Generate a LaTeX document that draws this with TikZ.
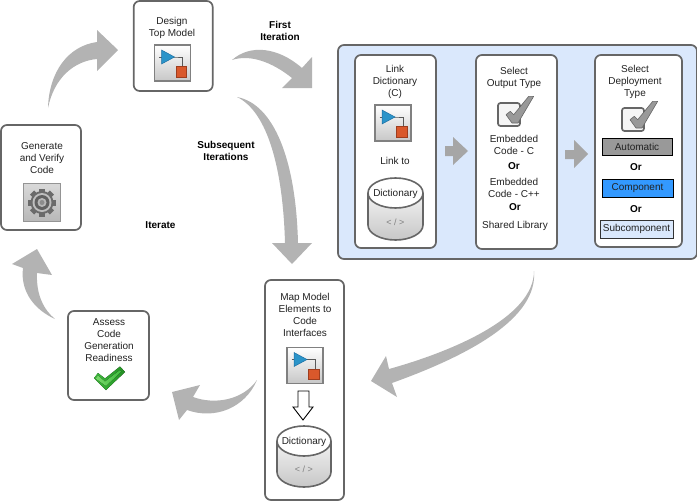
\documentclass[tikz,border=0pt]{standalone}
\usepackage{fontspec}
\setmainfont{Liberation Sans}
\definecolor{bordergray}{HTML}{666666}
\definecolor{arrowgray}{HTML}{B3B3B3}
\definecolor{smallarrow}{HTML}{A6A6A6}
\definecolor{panelblue}{HTML}{DAE8FC}
\definecolor{txt}{HTML}{222222}
\definecolor{iconblue}{HTML}{2B94C9}
\definecolor{iconblued}{HTML}{1C6FA3}
\definecolor{iconorange}{HTML}{D9582B}
\definecolor{iconoranged}{HTML}{9E3D1E}
\definecolor{compblue}{HTML}{3399FF}
\definecolor{checklight}{HTML}{7ADB6B}
\definecolor{checkmid}{HTML}{3DBB3D}
\definecolor{checkdark}{HTML}{238F23}
\tikzset{
  x=1pt,y=-1pt,
  card/.style={draw=bordergray,line width=1.7pt,rounded corners=6pt,fill=white,inner sep=0pt},
  lbl/.style={align=center,inner sep=0pt,text=txt,font=\fontsize{10}{12}\selectfont},
  blbl/.style={align=center,inner sep=0pt,text=black,font=\fontsize{10}{12}\selectfont\bfseries},
  flow/.style={fill=arrowgray,draw=none},
  small flow/.style={fill=smallarrow,draw=none},
  option/.style={draw=black,line width=1pt,inner sep=0pt,text=txt,font=\fontsize{10}{12}\selectfont},
}
% model icon: top-left corner, 36 px square
\newcommand{\modelicon}[2]{%
  \begin{scope}[shift={(#1,#2)}]
    \fill[top color=white,bottom color=black!22] (0,0) rectangle (36,36);
    \draw[black!50,line width=1.1pt] (0,0) rectangle (36,36);
    \draw[black!65,line width=.7pt] (4.5,12) -- (20,12) -- (28,12) -- (28,22);
    \fill[fill=iconblue,draw=iconblued,line width=.5pt] (7,5) -- (7,19) -- (20,12) -- cycle;
    \fill[fill=iconorange,draw=iconoranged,line width=1pt] (21.5,21.5) rectangle (32,32);
  \end{scope}}
% cylinder: left, right, top, bottom
\newcommand{\dictcyl}[5]{%
  \fill[top color=black!5,bottom color=black!22] (#1,#3+15) -- (#1,#4-15) arc[start angle=180,end angle=360,x radius={(#2-#1)/2},y radius=-15] -- (#2,#3+15) -- cycle;
  \draw[bordergray,line width=1.6pt] (#1,#3+15) -- (#1,#4-15) arc[start angle=180,end angle=360,x radius={(#2-#1)/2},y radius=-15] -- (#2,#3+15);
  \draw[bordergray,fill=white,line width=1.6pt] ({(#1+#2)/2},#3+15) ellipse[x radius={(#2-#1)/2},y radius=15];
  \node[lbl] (#5-t) at ({(#1+#2)/2},#3+16) {Dictionary};
  \node[inner sep=0pt,text=black!50,font=\fontsize{9}{11}\selectfont] (#5-c) at ({(#1+#2)/2},#4-18) {< / >};}
% checkbox: top-left of the 22 px box
\newcommand{\checkbox}[2]{%
  \begin{scope}[shift={(#1,#2)}]
    \draw[bordergray,line width=1.7pt,fill=black!4,rounded corners=2.5pt] (0,0) rectangle (22,23);
    \fill[fill=black!40,draw=bordergray,line width=.6pt,line join=round] (8,11.7) -- (12.3,8.3) -- (15.7,11.7) -- (30.7,-6.7) -- (35.7,-6.7) -- (20,20) -- (14,20) -- cycle;
  \end{scope}}
\begin{document}
\begin{tikzpicture}
\useasboundingbox (0,0) rectangle (697,501);

% ---- curved flow arrows
\path[flow] (48,108) .. controls (49,72) and (68,46) .. (97,42) -- (97,30) -- (118,50) -- (97,71) -- (97,59) .. controls (74,61) and (54,78) .. cycle;
\path[flow] (232,60) .. controls (250,44) and (278,47) .. (302,68) -- (312,57) -- (312,88) -- (282,88) -- (292,78) .. controls (272,62) and (250,54) .. cycle;
\path[flow] (237,97) .. controls (274,104) and (296,160) .. (298,243) -- (312,243) -- (292,264) -- (272,243) -- (285,243) .. controls (283,170) and (268,112) .. cycle;
\path[flow] (534,271) .. controls (538,318) and (470,355) .. (392,383) -- (397,397) -- (371,381) -- (386,356) -- (389,369) .. controls (450,352) and (534,318) .. cycle;
\path[flow] (257,380) .. controls (245,408) and (215,420) .. (187,410) -- (179,420) -- (172,392) -- (200,385) -- (193,397) .. controls (215,405) and (243,400) .. cycle;
\path[flow] (55,319) .. controls (35,310) and (20,292) .. (23,268) -- (12,264) -- (37,249) -- (52,275) -- (37,273) .. controls (36,295) and (44,310) .. cycle;

% ---- design
\node[card,minimum width=79pt,minimum height=90pt] (design) at (173.2,46) {};
\node[lbl] (designt) at (172,27.5) {Design\\Top Model};
\modelicon{154.5}{45}

\node[blbl] (first) at (280,30.5) {First\\Iteration};
\node[blbl] (subseq) at (226,150.5) {Subsequent\\Iterations};
\node[blbl] (iter) at (160.5,225) {Iterate};

% ---- generate
\node[card,minimum width=80pt,minimum height=105pt] (generate) at (41,177.5) {};
\node[lbl] (generatet) at (42,158.5) {Generate\\and Verify\\Code};
\fill[top color=black!15,bottom color=black!28] (23.5,183.5) rectangle (60.5,221.5);
\draw[black!42,line width=1.1pt] (23.5,183.5) rectangle (60.5,221.5);
\foreach \a in {0,45,...,315}{
  \fill[black!58,rotate around={\a:(42,202.5)}] (39,188.5) rectangle (45,194);
}
\fill[black!58] (42,202.5) circle[radius=11.5];
\fill[black!25] (42,202.5) circle[radius=9.5];
\fill[black!62] (42,202.5) circle[radius=7.5];
\fill[black!28] (42,202.5) circle[radius=4.5];
\fill[black!45] (42,202.5) circle[radius=2.5];

% ---- panel
\node[draw=bordergray,line width=1.7pt,rounded corners=6pt,fill=panelblue,minimum width=359pt,minimum height=214pt,inner sep=0pt] (panel) at (517.5,152) {};
\node[card,minimum width=81pt,minimum height=193pt] (link) at (395.5,151.5) {};
\node[card,minimum width=81pt,minimum height=194pt] (output) at (516.5,152) {};
\node[card,minimum width=87pt,minimum height=192pt] (deploy) at (638.5,151) {};

\node[lbl] (linkt) at (395,81.5) {Link\\Dictionary\\(C)};
\modelicon{375}{105}
\node[lbl] (linkto) at (395,160.5) {Link to};
\dictcyl{368}{423}{178}{240}{dicta}

\path[small flow] (445,146) -- (453,146) -- (453,137) -- (468,151) -- (453,165) -- (453,156) -- (445,156) -- cycle;
\path[small flow] (565,150) -- (574,150) -- (574,140) -- (588,154) -- (574,168) -- (574,159) -- (565,159) -- cycle;

\node[lbl] (outputt) at (514,77.5) {Select\\Output Type};
\checkbox{498}{103}
\node[lbl] (o1) at (514,144.5) {Embedded\\Code - C};
\node[blbl] (or1) at (514,166) {Or};
\node[lbl] (o2) at (514,187.5) {Embedded\\Code - C++};
\node[blbl] (or2) at (515,207) {Or};
\node[lbl] (o3) at (515,226) {Shared Library};

\node[lbl] (deployt) at (635,81.5) {Select\\Deployment\\Type};
\checkbox{622}{108}
\node[option,fill=black!40,minimum width=70pt,minimum height=17pt] (auto) at (637,146.5) {Automatic};
\node[blbl] (or3) at (636,167) {Or};
\node[option,fill=compblue,minimum width=71pt,minimum height=18pt] (comp) at (637.5,188) {Component};
\node[blbl] (or4) at (636,209) {Or};
\node[option,draw=black!80,fill=panelblue,minimum width=73pt,minimum height=18pt] (sub) at (636.5,229) {Subcomponent};

% ---- map
\node[card,minimum width=79pt,minimum height=220pt] (map) at (304.5,390) {};
\node[lbl] (mapt) at (305,314.5) {Map Model\\Elements to\\Code\\Interfaces};
\modelicon{287}{347.5}
\draw[black,fill=white,line width=.9pt,line join=miter] (298,391) -- (309,391) -- (309,407) -- (313,407) -- (303,420) -- (293,407) -- (298,407) -- cycle;
\dictcyl{277}{331}{426}{487}{dictb}

% ---- assess
\node[card,minimum width=81pt,minimum height=89pt] (assess) at (108.5,355.5) {};
\node[lbl] (assesst) at (109,340.5) {Assess\\Code\\Generation\\Readiness};
\fill[left color=checkmid,right color=checkdark,line join=round] (94,378) -- (98,373) -- (105,378.5) -- (120,366.5) -- (125,372) -- (106,390) -- cycle;
\fill[left color=checklight,right color=checkmid] (95.5,378.5) -- (98,375.5) -- (105,381.5) -- (120,370) -- (121.5,371.5) -- (106,386) -- cycle;
\end{tikzpicture}
\end{document}
